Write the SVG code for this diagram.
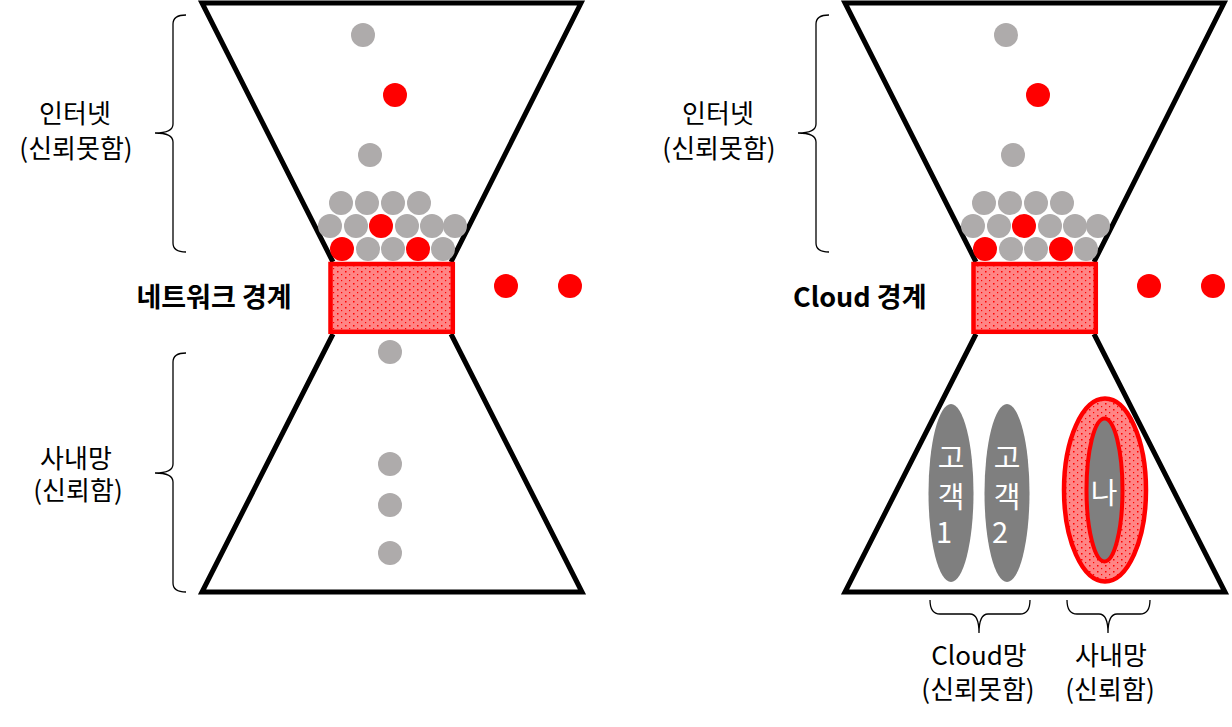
<svg xmlns="http://www.w3.org/2000/svg" width="1232" height="727" viewBox="0 0 1232 727">
<style>
.txt{font-family:"Noto Sans CJK KR","Noto Sans",sans-serif;font-size:26px;fill:#000;text-anchor:middle}
.bold{font-family:"Noto Sans CJK KR","Noto Sans",sans-serif;font-size:27px;font-weight:bold;fill:#000}
.wt{font-family:"Noto Sans CJK KR","Noto Sans",sans-serif;font-size:29px;fill:#fff;text-anchor:middle}
.glass{fill:#fff;stroke:#000;stroke-width:5}
.g{fill:#AEABAB}
.r{fill:#FF0000}
.box{fill:url(#dots);stroke:#FF0000;stroke-width:4.5}
.brace{fill:none;stroke:#000;stroke-width:1.3}
.cust{fill:#7F7F7F}
</style>
<defs>
<pattern id="dots" width="8" height="6" patternUnits="userSpaceOnUse">
<rect width="8" height="6" fill="#FF8585"/>
<rect x="1" y="1" width="1.5" height="1.5" fill="#FF0000"/>
<rect x="5" y="4" width="1.2" height="1.2" fill="#FF0000"/>
</pattern>
<g id="balls">
<circle class="g" cx="363" cy="35" r="12"/>
<circle class="r" cx="395" cy="95" r="12"/>
<circle class="g" cx="370" cy="155" r="12"/>
<circle class="g" cx="341" cy="203" r="12"/>
<circle class="g" cx="367" cy="203" r="12"/>
<circle class="g" cx="393" cy="203" r="12"/>
<circle class="g" cx="419" cy="203" r="12"/>
<circle class="g" cx="330" cy="226" r="12"/>
<circle class="g" cx="356" cy="226" r="12"/>
<circle class="r" cx="381" cy="226" r="12"/>
<circle class="g" cx="407" cy="226" r="12"/>
<circle class="g" cx="432" cy="226" r="12"/>
<circle class="g" cx="455" cy="226" r="12"/>
<circle class="r" cx="342" cy="249" r="12"/>
<circle class="g" cx="368" cy="249" r="12"/>
<circle class="g" cx="393" cy="249" r="12"/>
<circle class="r" cx="418" cy="249" r="12"/>
<circle class="g" cx="443" cy="249" r="12"/>
<circle class="r" cx="506" cy="286" r="12"/>
<circle class="r" cx="570" cy="286" r="12"/>
</g>
</defs>

<!-- Left diagram -->
<g id="left-hourglass-top"><path class="glass" d="M333,262 L202,3 L581,3 L451,262"/></g>
<g id="left-hourglass-bottom"><path class="glass" d="M333,334 L202,592 L582,592 L451,334"/></g>
<g id="left-packets"><use href="#balls"/></g>
<g id="left-boundary"><rect class="box" x="330.5" y="264" width="122.3" height="67.8"/></g>
<g id="left-inner-packets">
<circle class="g" cx="390" cy="352" r="12"/>
<circle class="g" cx="390" cy="464" r="12"/>
<circle class="g" cx="390" cy="505" r="12"/>
<circle class="g" cx="390" cy="553" r="12"/>
</g>
<g id="left-braces">
<path class="brace" d="M186,15 Q173,15 173,24 L173,124 Q173,133 155,133 Q173,133 173,142 L173,243 Q173,252 186,252"/>
<path class="brace" d="M186,353 Q173,353 173,362 L173,464 Q173,473 155,473 Q173,473 173,482 L173,583 Q173,592 186,592"/>
</g>
<g id="left-labels">
<text class="txt" x="75" y="123">인터넷<tspan x="76" dy="35">(신뢰못함)</tspan></text>
<text class="bold" x="214" y="307" text-anchor="middle">네트워크 경계</text>
<text class="txt" x="76" y="468">사내망<tspan x="78" dy="32">(신뢰함)</tspan></text>
</g>

<!-- Right diagram -->
<g id="right-hourglass-top"><path class="glass" d="M976,262 L845,3 L1224,3 L1094,262"/></g>
<g id="right-hourglass-bottom"><path class="glass" d="M976,334 L845,592 L1225,592 L1094,334"/></g>
<g id="right-packets"><use href="#balls" transform="translate(643,0)"/></g>
<g id="right-boundary"><rect class="box" x="973.5" y="264" width="122.3" height="67.8"/></g>
<g id="customer1">
<ellipse class="cust" cx="951" cy="493" rx="22.5" ry="89"/>
<text class="wt" x="951" y="469">고<tspan x="951" dy="39">객</tspan><tspan x="944" dy="35">1</tspan></text>
</g>
<g id="customer2">
<ellipse class="cust" cx="1007" cy="493" rx="22.5" ry="89"/>
<text class="wt" x="1007" y="469">고<tspan x="1007" dy="39">객</tspan><tspan x="1000" dy="35">2</tspan></text>
</g>
<g id="me">
<ellipse cx="1105" cy="490" rx="41" ry="91.5" fill="url(#dots)" stroke="#FF0000" stroke-width="4.5"/>
<ellipse cx="1104.5" cy="490" rx="18" ry="71.5" fill="#7F7F7F" stroke="#FF0000" stroke-width="4"/>
<text class="wt" x="1104" y="504">나</text>
</g>
<g id="right-braces">
<path class="brace" d="M829,15 Q816,15 816,24 L816,124 Q816,133 798,133 Q816,133 816,142 L816,243 Q816,252 829,252"/>
<path class="brace" d="M930,600 Q930,614 940,614 L970,614 Q979,614 979,633 Q979,614 988,614 L1020,614 Q1030,614 1030,600"/>
<path class="brace" d="M1067,600 Q1067,614 1077,614 L1099,614 Q1108,614 1108,633 Q1108,614 1117,614 L1140,614 Q1150,614 1150,600"/>
</g>
<g id="right-labels">
<text class="txt" x="718" y="123">인터넷<tspan x="719" dy="35">(신뢰못함)</tspan></text>
<text class="bold" x="793" y="307" font-size="26">Cloud 경계</text>
<text class="txt" x="979" y="665">Cloud망<tspan x="978" dy="34">(신뢰못함)</tspan></text>
<text class="txt" x="1111" y="665">사내망<tspan x="1110" dy="34">(신뢰함)</tspan></text>
</g>
</svg>
